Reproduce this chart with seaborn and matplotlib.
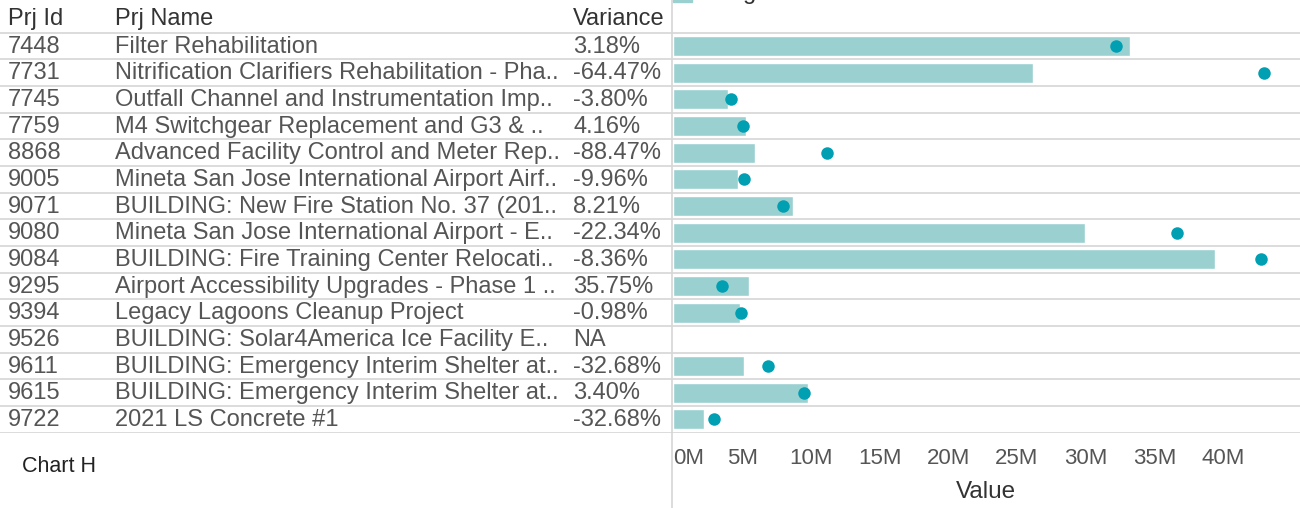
import numpy as np
import pandas as pd
import matplotlib.pyplot as plt
from matplotlib.patches import Rectangle
import seaborn as sns

# donnees (valeurs en millions)
prj_ids = ['7448', '7731', '7745', '7759', '8868', '9005', '9071', '9080',
           '9084', '9295', '9394', '9526', '9611', '9615', '9722']
prj_names = ['Filter Rehabilitation',
             'Nitrification Clarifiers Rehabilitation - Pha..',
             'Outfall Channel and Instrumentation Imp..',
             'M4 Switchgear Replacement and G3 & ..',
             'Advanced Facility Control and Meter Rep..',
             'Mineta San Jose International Airport Airf..',
             'BUILDING: New Fire Station No. 37 (201..',
             'Mineta San Jose International Airport - E..',
             'BUILDING: Fire Training Center Relocati..',
             'Airport Accessibility Upgrades - Phase 1 ..',
             'Legacy Lagoons Cleanup Project',
             'BUILDING: Solar4America Ice Facility E..',
             'BUILDING: Emergency Interim Shelter at..',
             'BUILDING: Emergency Interim Shelter at..',
             '2021 LS Concrete #1']
variance = ['3.18%', '-64.47%', '-3.80%', '4.16%', '-88.47%', '-9.96%', '8.21%',
            '-22.34%', '-8.36%', '35.75%', '-0.98%', 'NA', '-32.68%', '3.40%',
            '-32.68%']
budget = [33.26, 26.14, 4.01, 5.28, 5.94, 4.69, 8.68, 29.94, 39.45, 5.47,
          4.87, np.nan, 5.17, 9.83, 2.23]
actual = [32.20, 42.99, 4.16, 5.06, 11.19, 5.16, 7.97, 36.63, 42.75, 3.51,
          4.92, np.nan, 6.86, 9.50, 2.96]
tick_vals = [0, 5, 10, 15, 20, 25, 30, 35, 40, 45]
tick_labels = ['0M', '5M', '10M', '15M', '20M', '25M', '30M', '35M', '40M', '']

df = pd.DataFrame({'id': prj_ids, 'budget': budget, 'actual': actual})

sns.set_style('white')
plt.rcParams['font.family'] = ['Liberation Sans', 'DejaVu Sans']

bar_color = '#9bd0d1'
dot_color = '#00a0b2'
line_color = '#d6d6d6'
text_color = '#555555'
head_color = '#333333'

W, H = 1300, 508
fig = plt.figure(figsize=(13, 5.08), dpi=100)
split = 672 / W
bottom = 1 - 432.7 / H
height = (432.7 - 6) / H

# partie graphique
ax = fig.add_axes([split, bottom, 1 - split, height])
sns.barplot(data=df, x='budget', y='id', order=prj_ids, orient='h',
            color=bar_color, saturation=1, width=0.75, errorbar=None, ax=ax)
sns.stripplot(data=df, x='actual', y='id', order=prj_ids, orient='h',
              jitter=False, color=dot_color, size=9, linewidth=0, ax=ax,
              zorder=3)
ax.set_ylim(14.5, -1.5)
ax.set_xlim(-0.1, 45.6)
ax.set_yticks([])
ax.set_ylabel('')
ax.set_xticks(tick_vals)
ax.set_xticklabels(tick_labels)
ax.get_xticklabels()[0].set_horizontalalignment('left')
ax.tick_params(axis='x', length=5, color=line_color, labelsize=16,
               labelcolor=text_color, pad=6)
ax.set_xlabel('Value', fontsize=17.5, color=head_color, labelpad=9)
for s in ax.spines.values():
    s.set_visible(False)

# partie tableau
tab = fig.add_axes([0, bottom, split, height])
tab.set_xlim(0, 672)
tab.set_ylim(14.5, -1.5)
tab.axis('off')
for x, head in zip([8, 115, 573], ['Prj Id', 'Prj Name', 'Variance']):
    tab.text(x, -1.02, head, fontsize=17, color=head_color, va='center')
for i in range(len(prj_ids)):
    tab.text(8, i + 0.03, prj_ids[i], fontsize=17, color=text_color, va='center')
    tab.text(115, i + 0.03, prj_names[i], fontsize=17, color=text_color, va='center')
    tab.text(573, i + 0.03, variance[i], fontsize=17, color=text_color, va='center')

for a in (ax, tab):
    for y in np.arange(-0.5, len(prj_ids)):
        a.axhline(y, color=line_color, lw=1.2, zorder=0)

fig.add_artist(plt.Line2D([split, split], [0, 1], color=line_color, lw=1.2,
                          transform=fig.transFigure))

# legende coupee en haut
fig.add_artist(Rectangle((673 / W, 1 - 2 / H), 19 / W, 10 / H,
                         color=bar_color, transform=fig.transFigure))
fig.text(701 / W, 1 + 1.5 / H, 'Budget', fontsize=17, color=head_color,
         va='baseline')

fig.text(22 / W, 1 - 467 / H, 'Chart H', fontsize=15.5, color='#222222',
         va='center')

fig.savefig('out.png', dpi=100)
